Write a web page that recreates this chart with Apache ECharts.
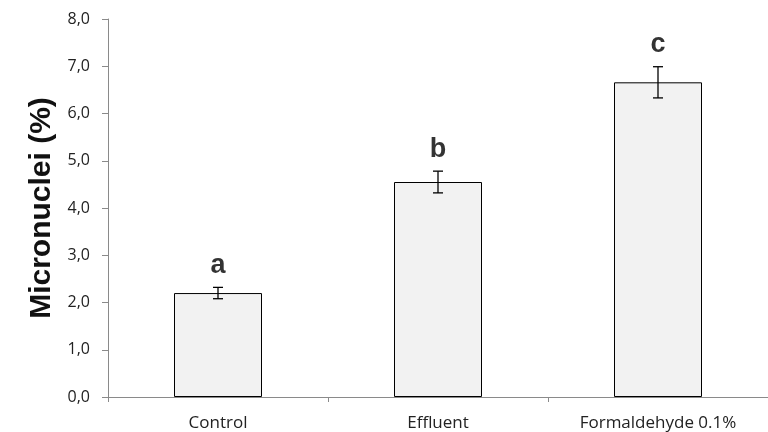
<!DOCTYPE html>
<html><head><meta charset="utf-8">
<script src="https://cdn.jsdelivr.net/npm/echarts@6/dist/echarts.min.js"></script>
<style>html,body{margin:0;padding:0;background:#fff}#c{width:768px;height:432px}</style>
</head><body><div id="c"></div>
<script>
var categories = ['Control', 'Effluent', 'Formaldehyde 0.1%'];
var means = [2.2, 4.55, 6.66];
var errors = [0.12, 0.23, 0.33];
var letters = ['a', 'b', 'c'];
var yTicks = [0, 1, 2, 3, 4, 5, 6, 7, 8];

var chart = echarts.init(document.getElementById('c'));
var errData = means.map(function (m, i) { return [i, m - errors[i], m + errors[i]]; });
var letterData = means.map(function (m, i) { return [i, m + errors[i]]; });

chart.setOption({
  animation: false,
  grid: { left: 108, right: -10, top: 19, bottom: 35 },
  xAxis: {
    type: 'category', data: categories,
    axisLine: { lineStyle: { color: '#8a8a8a', width: 1 } },
    axisTick: { show: true, length: 5, lineStyle: { color: '#8a8a8a' } },
    axisLabel: { color: '#222', fontSize: 17, fontFamily: 'Open Sans', margin: 18 }
  },
  yAxis: {
    type: 'value', min: yTicks[0], max: yTicks[yTicks.length - 1], interval: 1,
    name: 'Micronuclei (%)', nameLocation: 'middle', nameGap: 41,
    nameTextStyle: { fontSize: 30, fontWeight: 'bold', fontFamily: 'Liberation Sans', color: '#111' },
    axisLine: { show: true, lineStyle: { color: '#8a8a8a' } },
    axisTick: { show: true, length: 6, lineStyle: { color: '#8a8a8a' } },
    splitLine: { show: false },
    axisLabel: { color: '#222', fontSize: 16, fontFamily: 'Open Sans', margin: 18,
      formatter: function (v) { return v.toFixed(1).replace('.', ','); } }
  },
  series: [
    {
      type: 'bar', data: means, barWidth: '40%',
      itemStyle: { color: '#f2f2f2', borderColor: '#000', borderWidth: 1 }
    },
    {
      type: 'custom', data: errData, z: 5,
      renderItem: function (params, api) {
        var x = api.value(0);
        var lo = api.coord([x, api.value(1)]);
        var hi = api.coord([x, api.value(2)]);
        var w = 5;
        var st = { stroke: '#000', lineWidth: 1.3 };
        return { type: 'group', children: [
          { type: 'line', shape: { x1: lo[0], y1: lo[1], x2: hi[0], y2: hi[1] }, style: st },
          { type: 'line', shape: { x1: lo[0] - w, y1: lo[1], x2: lo[0] + w, y2: lo[1] }, style: st },
          { type: 'line', shape: { x1: hi[0] - w, y1: hi[1], x2: hi[0] + w, y2: hi[1] }, style: st }
        ]};
      }
    },
    {
      type: 'scatter', data: letterData, symbolSize: 1, z: 6,
      itemStyle: { color: 'rgba(0,0,0,0)' },
      label: {
        show: true, position: 'top', distance: 8,
        formatter: function (p) { return letters[p.dataIndex]; },
        fontSize: 27, fontWeight: 'bold', fontFamily: 'Liberation Sans', color: '#000'
      }
    }
  ]
});
</script></body></html>
